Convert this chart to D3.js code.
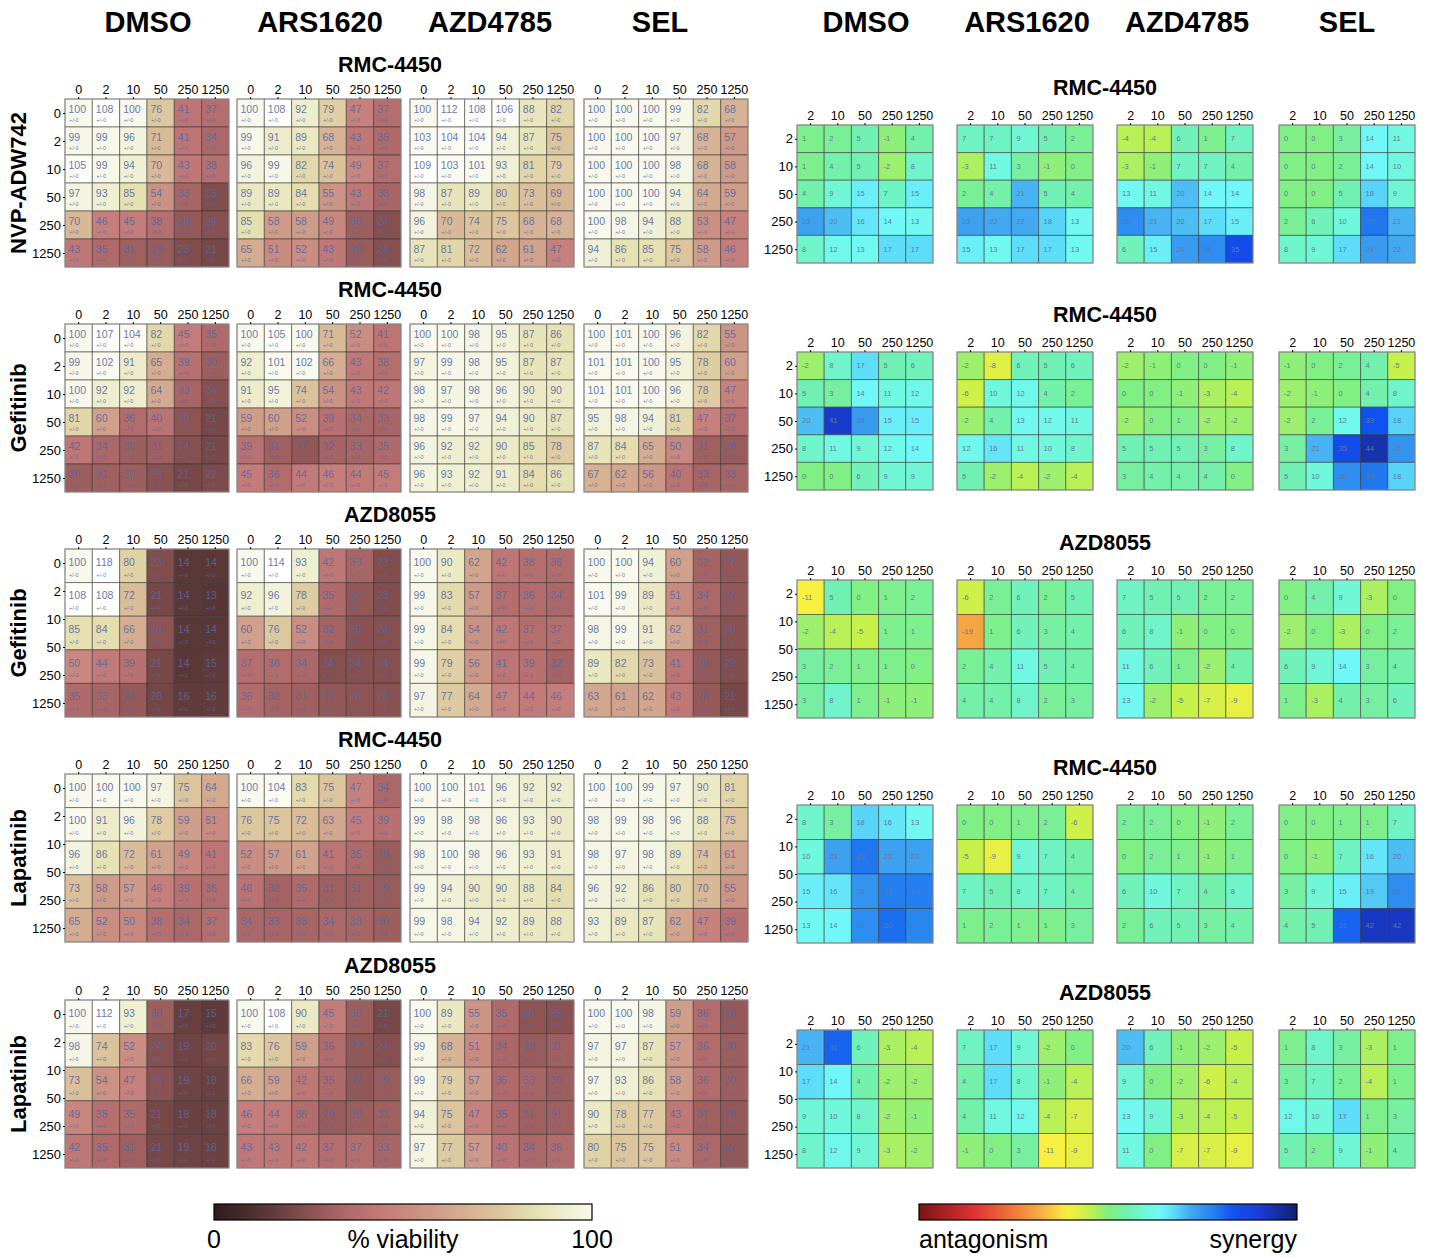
<!DOCTYPE html>
<html>
<head>
<meta charset="utf-8">
<script src="https://cdn.jsdelivr.net/npm/d3@7"></script>
<style>
  body { margin: 0; background: #fff; }
  text { font-family: "Liberation Sans", Arial, sans-serif; }
</style>
</head>
<body>
<svg id="fig" width="1429" height="1258"></svg>
<script>
// ---- labels
const treatments = ["DMSO", "ARS1620", "AZD4785", "SEL"];
const rowDrugs = ["NVP-ADW742", "Gefitinib", "Gefitinib", "Lapatinib", "Lapatinib"];
const colDrugs = ["RMC-4450", "RMC-4450", "AZD8055", "RMC-4450", "AZD8055"];
const viaDoses = ["0", "2", "10", "50", "250", "1250"];
const synDoses = ["2", "10", "50", "250", "1250"];

// ---- % viability, one matrix per treatment (DMSO, ARS1620, AZD4785, SEL)
const via1 = [
  [[100,108,100,76,41,37],[99,99,96,71,41,34],[105,99,94,70,43,38],[97,93,85,54,33,23],[70,46,45,38,28,24],[43,35,31,29,23,21]],
  [[100,108,92,79,47,37],[99,91,89,68,43,35],[96,99,82,74,49,37],[89,89,84,55,43,33],[85,58,58,49,30,24],[65,51,52,43,29,24]],
  [[100,112,108,106,88,82],[103,104,104,94,87,75],[109,103,101,93,81,79],[98,87,89,80,73,69],[96,70,74,75,68,68],[87,81,72,62,61,47]],
  [[100,100,100,99,82,68],[100,100,100,97,68,57],[100,100,100,98,68,58],[100,100,100,94,64,59],[100,98,94,88,53,47],[94,86,85,75,58,46]]
];
const via2 = [
  [[100,107,104,82,45,35],[99,102,91,65,39,30],[100,92,92,64,33,24],[81,60,36,40,26,21],[42,34,30,31,24,21],[30,31,30,25,21,22]],
  [[100,105,100,71,52,41],[92,101,102,66,43,38],[91,95,74,54,43,42],[59,60,52,39,34,33],[39,31,27,32,33,35],[45,36,44,46,44,45]],
  [[100,100,98,95,87,86],[97,99,98,95,87,87],[98,97,98,96,90,90],[98,99,97,94,90,87],[96,92,92,90,85,78],[96,93,92,91,84,86]],
  [[100,101,100,96,82,55],[101,101,100,95,78,60],[101,101,100,96,78,47],[95,98,94,81,47,37],[87,84,65,50,31,29],[67,62,56,40,33,33]]
];
const via3 = [
  [[100,118,80,23,14,14],[108,108,72,21,14,13],[85,84,66,26,14,14],[50,44,39,21,14,15],[35,33,28,20,16,16]],
  [[100,114,93,42,33,23],[92,96,78,35,27,23],[60,76,52,32,25,24],[37,36,34,24,24,24],[36,32,31,27,26,25]],
  [[100,90,62,42,38,36],[99,83,57,37,36,34],[99,84,54,42,37,37],[99,79,56,41,39,32],[97,77,64,47,44,46]],
  [[100,100,94,60,32,27],[101,99,89,51,34,27],[98,99,91,62,31,25],[89,82,73,41,28,23],[63,61,62,43,28,21]]
];
const via4 = [
  [[100,100,100,97,75,64],[100,91,96,78,59,51],[96,86,72,61,49,41],[73,58,57,46,39,36],[65,52,50,38,34,37]],
  [[100,104,83,75,47,34],[76,75,72,63,45,39],[52,57,61,41,35,29],[40,32,35,31,31,29],[34,33,33,34,33,30]],
  [[100,100,101,96,92,92],[99,98,98,96,93,90],[98,100,98,96,93,91],[99,94,90,90,88,84],[99,98,94,92,89,88]],
  [[100,100,99,97,90,81],[98,99,98,96,88,75],[98,97,98,89,74,61],[96,92,86,80,70,55],[93,89,87,62,47,39]]
];
const via5 = [
  [[100,112,93,30,17,15],[98,74,52,24,19,20],[73,54,47,25,19,18],[49,38,35,21,18,18],[42,35,31,21,19,18]],
  [[100,108,90,45,30,21],[83,76,59,36,27,24],[66,59,42,35,27,29],[46,44,36,29,30,31],[43,43,42,37,37,33]],
  [[100,89,55,35,26,25],[99,68,51,34,29,31],[99,79,57,35,33,30],[94,75,47,35,31,31],[97,77,57,40,34,36]],
  [[100,100,98,59,36,28],[97,97,87,57,36,30],[97,93,86,58,36,30],[90,78,77,43,31,28],[80,75,75,51,34,27]]
];

// ---- synergy scores
const syn1 = [
  [[1,2,5,-1,4],[1,4,5,-2,8],[4,9,15,7,15],[23,20,16,14,13],[8,12,13,17,17]],
  [[7,7,9,5,2],[-3,11,3,-1,0],[2,4,21,5,4],[23,22,22,18,13],[15,13,17,17,13]],
  [[-4,-4,6,1,7],[-3,-1,7,7,4],[13,11,20,14,14],[26,21,20,17,15],[6,15,24,26,35]],
  [[0,0,3,14,11],[0,0,2,14,10],[0,0,5,18,9],[2,6,10,29,21],[8,9,17,24,22]]
];
const syn2 = [
  [[-2,8,17,5,6],[5,3,14,11,12],[20,41,24,15,15],[8,11,9,12,14],[0,0,6,9,9]],
  [[-2,-8,6,5,6],[-6,10,12,4,2],[-2,4,13,12,11],[12,16,11,10,8],[5,-2,-4,-2,-4]],
  [[-2,-1,0,0,-1],[0,0,-1,-3,-4],[-2,0,1,-2,-2],[5,5,5,3,8],[3,4,4,4,0]],
  [[-1,0,2,4,-5],[-2,-1,0,4,8],[-2,2,12,33,18],[3,21,35,44,25],[5,10,26,29,18]]
];
const syn3 = [
  [[-11,5,0,1,2],[-2,-4,-5,1,1],[3,2,1,1,0],[3,8,1,-1,-1]],
  [[-6,2,6,2,5],[-19,1,6,3,4],[2,4,11,5,4],[4,4,8,2,3]],
  [[7,5,5,2,2],[6,8,-1,0,0],[11,6,1,-2,4],[13,-2,-5,-7,-9]],
  [[0,4,9,-3,0],[-2,0,-3,0,2],[6,9,14,3,4],[1,-3,4,3,6]]
];
const syn4 = [
  [[8,3,18,16,13],[10,23,29,23,23],[15,16,25,28,28],[13,14,26,30,27]],
  [[0,0,1,2,-6],[-5,-9,9,7,4],[7,5,8,7,4],[1,2,1,1,3]],
  [[2,2,0,-1,2],[0,2,1,-1,1],[6,10,7,4,8],[2,6,5,3,4]],
  [[0,0,1,1,7],[0,-1,7,16,20],[3,9,15,19,26],[4,5,31,42,42]]
];
const syn5 = [
  [[21,31,6,-3,-4],[17,14,4,-2,-2],[9,10,8,-2,-1],[8,12,9,-3,-2]],
  [[7,17,9,-2,0],[4,17,8,-1,-4],[4,11,12,-4,-7],[-1,0,3,-11,-9]],
  [[20,6,-1,-2,-5],[9,0,-2,-6,-4],[13,9,-3,-4,-5],[11,0,-7,-7,-9]],
  [[1,8,3,-3,1],[3,7,2,-4,1],[12,10,17,1,3],[5,2,9,-1,4]]
];

const viaRows = [via1, via2, via3, via4, via5];
const synRows = [syn1, syn2, syn3, syn4, syn5];

// ---- layout
const leftX = [65, 237, 410, 584], leftW = 164;
const rightX = [797, 957, 1117, 1279], rightW = 136;
const leftTop = [99, 324, 549, 774, 1000], leftH = 168;
const rightTop = [125, 352, 580, 805, 1030], rightH = 138;

const svg = d3.select("#fig");

// colour scales
const viaColor = d3.scaleLinear()
  .domain([0, 15, 25, 35, 45, 55, 65, 75, 85, 93, 100, 110])
  .range(["#2e1c1c", "#5e3a3a", "#8a5252", "#b06a6a", "#c47c7a", "#cc9484", "#d4ac90", "#dcc49c", "#e6e0b0", "#efefd2", "#f8f8ec", "#ffffff"])
  .clamp(true);

const synColor = d3.scaleLinear()
  .domain([-50, -35, -25, -17, -11, -5, 0, 5, 10, 14, 18, 22, 28, 33, 40, 50])
  .range(["#7a1414", "#e03434", "#f07a3a", "#f6b446", "#f8f040", "#c6f04a", "#80f084", "#70f0b2", "#70f8dc", "#70f8f8", "#58d4f8", "#42a8f0", "#2480f0", "#1052f0", "#1a3ed6", "#102070"])
  .clamp(true);

// ---- top headers
const headL = [148, 320, 490, 660], headR = [866, 1027, 1187, 1347];
treatments.forEach((t, i) => {
  svg.append("text").attr("x", headL[i]).attr("y", 32).attr("text-anchor", "middle")
    .attr("font-size", 29).attr("font-weight", "bold").text(t);
  svg.append("text").attr("x", headR[i]).attr("y", 32).attr("text-anchor", "middle")
    .attr("font-size", 29).attr("font-weight", "bold").text(t);
});

function drawPanel(g, matrix, colLabels, rowLabels, w, h, showRows, kind) {
  const nr = matrix.length, nc = matrix[0].length;
  const x = d3.scaleBand().domain(d3.range(nc)).range([0, w]);
  const y = d3.scaleBand().domain(d3.range(nr)).range([0, h]);
  const xa = d3.scaleBand().domain(colLabels).range([0, w]);
  const ya = d3.scalePoint().domain(rowLabels).range([0, h]).padding(0.5);

  const cells = [];
  matrix.forEach((row, r) => row.forEach((v, c) => cells.push({ r, c, v })));

  const cg = g.selectAll("g.cell").data(cells).enter().append("g").attr("class", "cell")
    .attr("transform", d => `translate(${x(d.c)},${y(d.r)})`);
  cg.append("rect")
    .attr("width", x.bandwidth()).attr("height", y.bandwidth())
    .attr("fill", d => kind === "via" ? viaColor(d.v) : synColor(d.v))
    .attr("stroke", "#333").attr("stroke-opacity", 0.55).attr("stroke-width", 1);

  if (kind === "via") {
    cg.append("text").attr("x", 3.5).attr("y", y.bandwidth() * 0.5)
      .attr("font-size", 10.5).attr("fill", "#5468a2").attr("fill-opacity", 0.9)
      .text(d => d.v);
    cg.append("text").attr("x", 4).attr("y", y.bandwidth() * 0.82)
      .attr("font-size", 5.5).attr("fill", "#5468a2").attr("fill-opacity", 0.9)
      .text("+/-0");
  } else {
    cg.append("text").attr("x", 5).attr("y", y.bandwidth() / 2 + 2.5)
      .attr("font-size", 7.5).attr("fill", "#66769c")
      .text(d => d.v);
  }

  g.append("rect").attr("width", w).attr("height", h)
    .attr("fill", "none").attr("stroke", "#999").attr("stroke-width", 1);

  const ax = g.append("g").call(d3.axisTop(xa).tickSize(2).tickPadding(3));
  ax.select(".domain").remove();
  ax.selectAll("text").attr("font-size", 12.5).attr("fill", "#000");

  if (showRows) {
    const ay = g.append("g").call(d3.axisLeft(ya).tickSize(2).tickPadding(2));
    ay.select(".domain").remove();
    ay.selectAll("text").attr("font-size", 13).attr("fill", "#000");
  }
}

for (let k = 0; k < 5; k++) {
  // row drug label
  svg.append("text")
    .attr("transform", `translate(26,${leftTop[k] + leftH / 2}) rotate(-90)`)
    .attr("text-anchor", "middle").attr("font-size", 22).attr("font-weight", "bold")
    .text(rowDrugs[k]);

  // column drug headings
  svg.append("text").attr("x", 390).attr("y", leftTop[k] - 27).attr("text-anchor", "middle")
    .attr("font-size", 21.5).attr("font-weight", "bold").text(colDrugs[k]);
  svg.append("text").attr("x", 1105).attr("y", rightTop[k] - 30).attr("text-anchor", "middle")
    .attr("font-size", 21.5).attr("font-weight", "bold").text(colDrugs[k]);

  for (let i = 0; i < 4; i++) {
    const gl = svg.append("g").attr("transform", `translate(${leftX[i]},${leftTop[k]})`);
    drawPanel(gl, viaRows[k][i], viaDoses, viaDoses, leftW, leftH, i === 0, "via");
    const gr = svg.append("g").attr("transform", `translate(${rightX[i]},${rightTop[k]})`);
    drawPanel(gr, synRows[k][i], synDoses, synDoses, rightW, rightH, i === 0, "syn");
  }
}

// ---- colour bars
const defs = svg.append("defs");
function gradient(id, scale, lo, hi) {
  const gr = defs.append("linearGradient").attr("id", id);
  d3.range(0, 1.0001, 0.02).forEach(t => {
    gr.append("stop").attr("offset", t).attr("stop-color", scale(lo + t * (hi - lo)));
  });
}
gradient("gVia", viaColor, 0, 100);
gradient("gSyn", synColor, -50, 50);

svg.append("rect").attr("x", 214).attr("y", 1204).attr("width", 378).attr("height", 16)
  .attr("fill", "url(#gVia)").attr("stroke", "#000").attr("stroke-width", 1.2);
svg.append("rect").attr("x", 919).attr("y", 1204).attr("width", 378).attr("height", 16)
  .attr("fill", "url(#gSyn)").attr("stroke", "#000").attr("stroke-width", 1.2);

const cbText = [
  { x: 214, a: "middle", t: "0" },
  { x: 403, a: "middle", t: "% viability" },
  { x: 592, a: "middle", t: "100" },
  { x: 919, a: "start", t: "antagonism" },
  { x: 1297, a: "end", t: "synergy" }
];
svg.selectAll("text.cb").data(cbText).enter().append("text").attr("class", "cb")
  .attr("x", d => d.x).attr("y", 1248).attr("text-anchor", d => d.a)
  .attr("font-size", 25).text(d => d.t);
</script>
</body>
</html>
